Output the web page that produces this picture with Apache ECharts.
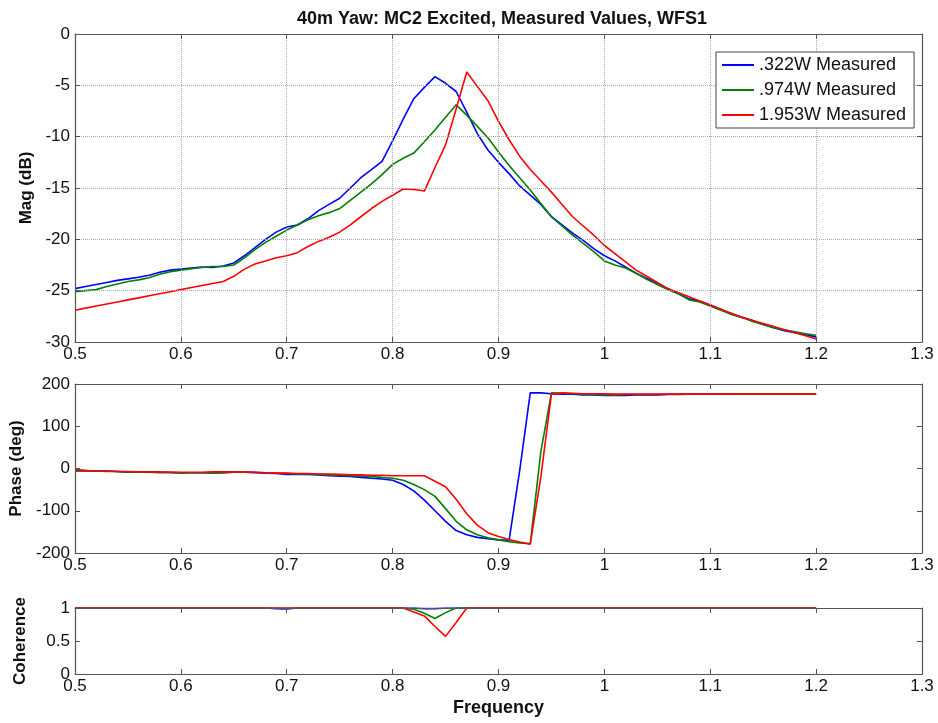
<!DOCTYPE html>
<html>
<head>
<meta charset="utf-8">
<script src="https://cdn.jsdelivr.net/npm/echarts@6/dist/echarts.min.js"></script>
<style>
html,body{margin:0;padding:0;background:#fff;}
#chart{width:938px;height:723px;}
</style>
</head>
<body>
<div id="chart"></div>
<script>
// ---------------- DATA ----------------
const titleText = '40m Yaw: MC2 Excited, Measured Values, WFS1';
const seriesNames = ['.322W Measured', '.974W Measured', '1.953W Measured'];
const seriesColors = ['#0000ff', '#008000', '#ff0000'];

const freq = [
  0.50,0.51,0.52,0.53,0.54,0.55,0.56,0.57,0.58,0.59,
  0.60,0.61,0.62,0.63,0.64,0.65,0.66,0.67,0.68,0.69,
  0.70,0.71,0.72,0.73,0.74,0.75,0.76,0.77,0.78,0.79,
  0.80,0.81,0.82,0.83,0.84,0.85,0.86,0.87,0.88,0.89,
  0.90,0.91,0.92,0.93,0.94,0.95,0.96,0.97,0.98,0.99,
  1.00,1.01,1.02,1.03,1.04,1.05,1.06,1.07,1.08,1.09,
  1.10,1.11,1.12,1.13,1.14,1.15,1.16,1.17,1.18,1.19,
  1.20
];

// Magnitude (dB)
const magBlue = [
  -24.8,-24.6,-24.4,-24.2,-24.0,-23.85,-23.7,-23.5,-23.2,-23.0,
  -22.9,-22.8,-22.7,-22.75,-22.6,-22.3,-21.6,-20.8,-20.0,-19.3,
  -18.8,-18.6,-18.0,-17.2,-16.6,-16.0,-15.0,-14.0,-13.2,-12.4,
  -10.4,-8.3,-6.3,-5.2,-4.15,-4.8,-5.6,-7.6,-9.7,-11.3,
  -12.5,-13.6,-14.8,-15.7,-16.6,-17.8,-18.6,-19.4,-20.1,-20.9,
  -21.6,-22.1,-22.7,-23.3,-23.8,-24.3,-24.8,-25.3,-25.8,-26.0,
  -26.4,-26.8,-27.3,-27.6,-27.9,-28.3,-28.6,-28.9,-29.1,-29.3,
  -29.5
];
const magGreen = [
  -25.1,-25.0,-24.9,-24.6,-24.35,-24.1,-23.95,-23.75,-23.4,-23.15,
  -23.0,-22.85,-22.75,-22.65,-22.65,-22.5,-21.8,-21.0,-20.3,-19.7,
  -19.1,-18.6,-18.1,-17.7,-17.4,-17.0,-16.2,-15.4,-14.6,-13.7,
  -12.7,-12.1,-11.6,-10.5,-9.35,-8.1,-6.9,-7.9,-9.0,-10.1,
  -11.5,-12.8,-14.0,-15.2,-16.5,-17.8,-18.7,-19.6,-20.4,-21.2,
  -22.1,-22.5,-22.8,-23.3,-23.9,-24.4,-24.9,-25.3,-25.9,-26.1,
  -26.5,-26.9,-27.3,-27.6,-28.0,-28.3,-28.6,-28.8,-29.0,-29.2,
  -29.35
];
const magRed = [
  -26.9,-26.7,-26.5,-26.3,-26.1,-25.9,-25.7,-25.5,-25.3,-25.1,
  -24.9,-24.7,-24.5,-24.3,-24.1,-23.6,-22.9,-22.4,-22.1,-21.8,
  -21.6,-21.3,-20.7,-20.2,-19.8,-19.3,-18.6,-17.8,-17.0,-16.3,
  -15.7,-15.1,-15.15,-15.3,-13.0,-10.8,-7.3,-3.7,-5.1,-6.5,
  -8.5,-10.3,-11.9,-13.2,-14.3,-15.4,-16.6,-17.8,-18.7,-19.6,
  -20.6,-21.4,-22.2,-23.0,-23.6,-24.2,-24.8,-25.2,-25.6,-26.0,
  -26.4,-26.8,-27.2,-27.6,-27.9,-28.2,-28.5,-28.8,-29.1,-29.4,
  -29.7
];

// Phase (deg)
const phaseBlue = [
  -5,-5,-6,-6,-7,-9,-9,-8,-9,-9,
  -10,-10,-10,-10,-10,-9,-9,-10,-11,-12,
  -14,-14,-14,-15,-17,-18,-19,-21,-23,-25,
  -28,-38,-53,-75,-100,-125,-147,-157,-163,-166,
  -169,-170,-5,179,179,177,176,176,174,174,
  173,173,173,174,174,174,175,175,176,176,
  176,176,176,176,177,177,177,177,177,177,
  177
];
const phaseGreen = [
  -6,-6,-6,-7,-7,-8,-9,-9,-10,-10,
  -11,-10,-10,-11,-10,-9,-9,-9,-10,-11,
  -12,-13,-13,-14,-15,-16,-17,-18,-19,-21,
  -23,-28,-38,-50,-66,-95,-125,-145,-157,-164,
  -169,-173,-176,-178,40,179,178,177,176,175,
  174,174,175,175,175,175,176,176,176,176,
  176,176,177,177,177,177,177,177,177,177,
  177
];
const phaseRed = [
  -2,-5,-6,-6,-7,-7,-8,-8,-8,-9,
  -9,-9,-9,-8,-8,-8,-8,-9,-10,-11,
  -11,-12,-12,-13,-13,-14,-15,-15,-16,-16,
  -17,-17,-17,-17,-30,-43,-73,-107,-134,-152,
  -161,-168,-174,-179,-20,176,179,178,177,177,
  177,176,176,176,176,176,176,176,176,176,
  176,176,176,176,176,176,176,176,176,176,
  176
];

// Coherence
const cohBlue = [
  1,1,1,1,1,1,1,1,1,1,
  1,1,1,1,1,1,1,1,1,0.99,
  0.985,1,1,1,1,1,1,1,1,1,
  1,1,1,0.99,0.99,1,1,1,1,1,
  1,1,1,1,1,1,1,1,1,1,
  1,1,1,1,1,1,1,1,1,1,
  1,1,1,1,1,1,1,1,1,1,
  1
];
const cohGreen = [
  1,1,1,1,1,1,1,1,1,1,
  1,1,1,1,1,1,1,1,1,1,
  1,1,1,1,1,1,1,1,1,1,
  1,1,0.98,0.92,0.84,0.93,1,1,1,1,
  1,1,1,1,1,1,1,1,1,1,
  1,1,1,1,1,1,1,1,1,1,
  1,1,1,1,1,1,1,1,1,1,
  1
];
const cohRed = [
  1,1,1,1,1,1,1,1,1,1,
  1,1,1,1,1,1,1,1,1,1,
  1,1,1,1,1,1,1,1,1,1,
  1,1,0.94,0.88,0.72,0.57,0.78,1,1,1,
  1,1,1,1,1,1,1,1,1,1,
  1,1,1,1,1,1,1,1,1,1,
  1,1,1,1,1,1,1,1,1,1,
  1
];

const magTicks = {min:-30, max:0, interval:5};
const phaseTicks = {min:-200, max:200, interval:100};
const cohTicks = {min:0, max:1, interval:0.5};
const freqTicks = {min:0.5, max:1.3, interval:0.1};

// ---------------- CHART ----------------
const FONT = 'Liberation Sans, Arial, sans-serif';
const AX = '#555';
const pairs = (ys) => freq.map((f, i) => [f, ys[i]]);
const fmtX = v => String(+(+v).toFixed(1));

const grids = [
  {left:75, right:16, top:34, height:308},
  {left:75, right:16, top:384, height:169},
  {left:75, right:16, top:608, height:66}
];

const xAxes = [], yAxes = [];
const yRanges = [magTicks, phaseTicks, cohTicks];
const yNames = ['Mag (dB)', 'Phase (deg)', 'Coherence'];
const yNameGaps = [33, 44, 46];
grids.forEach((g, gi) => {
  const grid = gi === 0;
  xAxes.push({
    type:'value', gridIndex:gi, position:'bottom',
    min:freqTicks.min, max:freqTicks.max, interval:freqTicks.interval,
    axisLine:{show:true, onZero:false, lineStyle:{color:AX, width:1.2}},
    axisTick:{show:true, inside:true, length:5, lineStyle:{color:AX}},
    axisLabel:{color:'#111', fontSize:17, fontFamily:FONT, margin:4, formatter:fmtX},
    splitLine:{show:grid, lineStyle:{color:'#aaa', type:'dotted', width:1}},
    name: gi === 2 ? 'Frequency' : '',
    nameLocation:'middle', nameGap:25,
    nameTextStyle:{fontSize:18, fontWeight:'bold', color:'#111', fontFamily:FONT},
    z:5
  });
  xAxes.push({
    type:'value', gridIndex:gi, position:'top',
    min:freqTicks.min, max:freqTicks.max, interval:freqTicks.interval,
    axisLine:{show:true, onZero:false, lineStyle:{color:AX, width:1.2}},
    axisTick:{show:true, inside:true, length:5, lineStyle:{color:AX}},
    axisLabel:{show:false}, splitLine:{show:false},
    z:5
  });
  const r = yRanges[gi];
  yAxes.push({
    type:'value', gridIndex:gi, position:'left',
    min:r.min, max:r.max, interval:r.interval,
    axisLine:{show:true, onZero:false, lineStyle:{color:AX, width:1.2}},
    axisTick:{show:true, inside:true, length:5, lineStyle:{color:AX}},
    axisLabel:{color:'#111', fontSize:17, fontFamily:FONT, margin:5},
    splitLine:{show:grid, lineStyle:{color:'#aaa', type:'dotted', width:1}},
    name:yNames[gi], nameLocation:'middle', nameGap:yNameGaps[gi],
    nameTextStyle:{fontSize:17, fontWeight:'bold', color:'#111', fontFamily:FONT},
    z:5
  });
  yAxes.push({
    type:'value', gridIndex:gi, position:'right',
    min:r.min, max:r.max, interval:r.interval,
    axisLine:{show:true, onZero:false, lineStyle:{color:AX, width:1.2}},
    axisTick:{show:true, inside:true, length:5, lineStyle:{color:AX}},
    axisLabel:{show:false}, splitLine:{show:false},
    z:5
  });
});

const allData = [
  [magBlue, magGreen, magRed],
  [phaseBlue, phaseGreen, phaseRed],
  [cohBlue, cohGreen, cohRed]
];
const series = [];
allData.forEach((set, gi) => {
  set.forEach((ys, si) => {
    series.push({
      type:'line', name:seriesNames[si],
      xAxisIndex:gi*2, yAxisIndex:gi*2,
      data:pairs(ys), symbol:'none', showSymbol:false,
      lineStyle:{color:seriesColors[si], width:1.6},
      itemStyle:{color:seriesColors[si]},
      animation:false, z:2
    });
  });
});

const chart = echarts.init(document.getElementById('chart'), null, {renderer:'canvas'});
chart.setOption({
  animation:false,
  backgroundColor:'#fff',
  title:{
    text:titleText, left:497, top:5, textAlign:'center',
    textStyle:{fontSize:18, fontWeight:'bold', color:'#111', fontFamily:FONT}
  },
  legend:{
    data:seriesNames, orient:'vertical', left:716, top:52,
    icon:'rect',
    backgroundColor:'#fff', borderColor:'#444', borderWidth:1,
    padding:[4,8,4,6], itemWidth:32, itemHeight:2, itemGap:7,
    textStyle:{fontSize:18, color:'#111', fontFamily:FONT, padding:[0,0,0,0]},
    z:10
  },
  grid:grids,
  xAxis:xAxes,
  yAxis:yAxes,
  series:series
});
</script>
</body>
</html>
